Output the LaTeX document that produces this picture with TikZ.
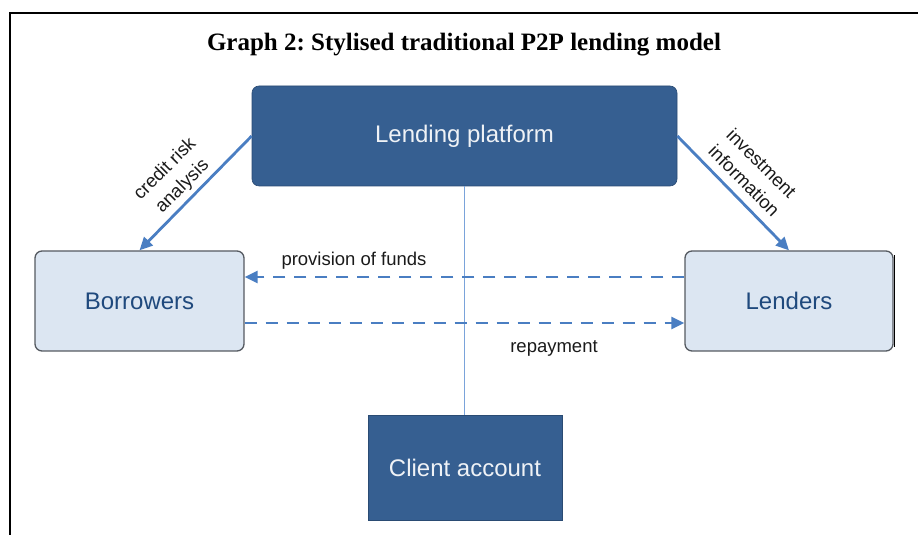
\documentclass[tikz,border=0pt]{standalone}
\usepackage{fontspec}
\setmainfont{Liberation Serif}
\setsansfont{Liberation Sans}
\usetikzlibrary{arrows.meta}
\definecolor{darkbox}{HTML}{365F91}
\definecolor{darkboxline}{HTML}{2A4B73}
\definecolor{lightbox}{HTML}{DCE6F2}
\definecolor{lightboxline}{HTML}{555A61}
\definecolor{boxtext}{HTML}{1F497D}
\definecolor{arrowblue}{HTML}{4A7EC2}
\definecolor{thinblue}{HTML}{7AA3DA}
\definecolor{labeltext}{HTML}{1A1A1A}
\tikzset{
  darknode/.style={draw=darkboxline, line width=0.6pt, fill=darkbox, text=white!92!darkbox,
    inner sep=0pt, font=\sffamily\fontsize{24}{28}\selectfont},
  lightnode/.style={draw=lightboxline, line width=1.3pt, fill=lightbox, text=boxtext,
    rounded corners=7pt, inner sep=0pt, minimum width=208pt, minimum height=100pt,
    font=\sffamily\fontsize{24}{28}\selectfont},
  flowarrow/.style={draw=arrowblue, line width=2.8pt, -{Triangle[length=13pt,width=12pt]}},
  dashflow/.style={flowarrow, dash pattern=on 12pt off 9pt},
  lbl/.style={text=labeltext, inner sep=0pt, font=\sffamily\fontsize{18.5}{24.5}\selectfont, align=center}
}
\frenchspacing
\begin{document}
\begin{tikzpicture}[x=1pt,y=1pt]
\useasboundingbox (0,0) rectangle (918,535);
\draw[line width=1.5pt] (10,0) -- (10,522) -- (918,522);
\node[inner sep=0pt, font=\bfseries\fontsize{25}{30}\selectfont] (title) at (464,490) {Graph 2: Stylised traditional P2P lending model};

\node[darknode, rounded corners=7pt, minimum width=425pt, minimum height=100pt] (lp) at (464.5,399) {Lending platform};
\node[lightnode, minimum width=209pt] (bo) at (139.5,234) {Borrowers};
\node[lightnode] (le) at (789,234) {Lenders};
\draw[black, line width=1.4pt] ([xshift=0.9pt,yshift=-5pt]le.north east) -- ([xshift=0.9pt,yshift=5pt]le.south east);
\node[darknode, minimum width=194pt, minimum height=105pt] (ca) at (465,67.5) {Client account};

\draw[thinblue, line width=1.6pt] (lp.south) -- (lp.south |- ca.north);

\draw[flowarrow] (lp.west) -- (bo.north);
\draw[flowarrow] (lp.east) -- (le.north);

\draw[dashflow] ([yshift=24pt]le.west) -- ([yshift=24pt]bo.east);
\draw[dashflow] ([yshift=-22pt]bo.east) -- ([yshift=-22pt]le.west);

\node[lbl] (pf) at (354,274) {provision of funds};
\node[lbl] (rp) at (554,187) {repayment};
\node[lbl, rotate=45] (cr) at (174,357) {credit risk\\analysis};
\node[lbl, rotate=-45] (ii) at (753,363) {investment\\information};
\end{tikzpicture}
\end{document}
